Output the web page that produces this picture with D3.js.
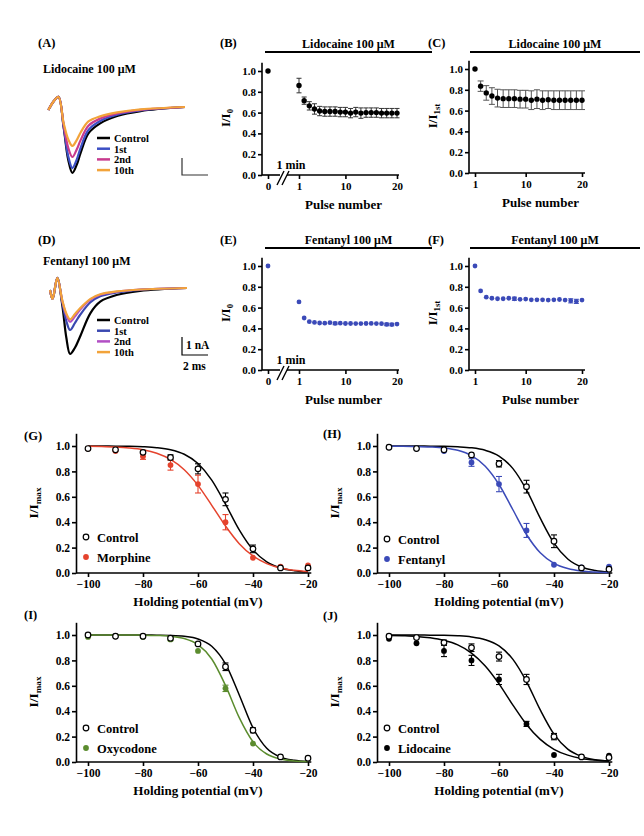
<!DOCTYPE html>
<html><head><meta charset="utf-8">
<script src="https://cdn.jsdelivr.net/npm/d3@7"></script>
<style>
body{margin:0;background:#fff}
svg text{font-family:"Liberation Serif","Times New Roman",serif;font-weight:bold;fill:#000}
</style></head><body>
<svg id="fig" width="644" height="836"></svg>
<script>
// ---------------- DATA ----------------
// Panels A / D : example current traces (time in ms, current in nA)
const traceNames = ["Control", "1st", "2nd", "10th"];
const timeA = [0.03, 0.45, 0.8, 1.2, 1.55, 1.87, 2.2, 2.5, 3.1, 4.0, 5.3, 7.1, 10.5];
const lidoTraceControl = [-0.18, 0.35, 0.6, -1.2, -3.1, -3.88, -3.4, -2.7, -1.55, -0.96, -0.53, -0.24, 0];
const lidoTrace1st     = [-0.18, 0.35, 0.6, -1.15, -2.9, -3.59, -3.1, -2.4, -1.35, -0.82, -0.45, -0.2, 0];
const lidoTrace2nd     = [-0.18, 0.35, 0.6, -1.05, -2.4, -2.94, -2.5, -1.95, -1.1, -0.68, -0.38, -0.17, 0];
const lidoTrace10th    = [-0.18, 0.35, 0.6, -0.95, -1.9, -2.29, -1.95, -1.5, -0.85, -0.55, -0.32, -0.14, 0];
const timeD = [0, 0.2, 0.56, 0.95, 1.25, 1.54, 1.9, 2.3, 3.1, 3.85, 5.1, 6.9, 10.5];
const fentTraceControl = [-0.13, -0.73, 0.67, -1.2, -3.3, -4.4, -4.0, -3.25, -1.67, -0.91, -0.47, -0.2, 0];
const fentTrace1st     = [-0.13, -0.73, 0.67, -1.0, -2.2, -2.8, -2.35, -1.8, -0.95, -0.55, -0.3, -0.12, 0];
const fentTrace2nd     = [-0.13, -0.73, 0.67, -0.9, -1.8, -2.25, -1.9, -1.45, -0.78, -0.45, -0.25, -0.1, 0];
const fentTrace10th    = [-0.13, -0.73, 0.67, -0.85, -1.7, -2.09, -1.75, -1.35, -0.72, -0.42, -0.23, -0.1, 0];

// Panels B / E : I/I0 vs pulse number (0 = before drug)
const pulses0 = [0,1,2,3,4,5,6,7,8,9,10,11,12,13,14,15,16,17,18,19,20];
const lidoI0    = [1.0,0.86,0.715,0.665,0.635,0.615,0.61,0.61,0.61,0.605,0.605,0.595,0.605,0.595,0.60,0.60,0.60,0.595,0.595,0.595,0.595];
const lidoI0Err = [0,0.07,0.035,0.04,0.05,0.045,0.045,0.045,0.045,0.045,0.045,0.045,0.045,0.05,0.045,0.045,0.045,0.045,0.045,0.045,0.045];
const fentI0    = [1.0,0.655,0.50,0.465,0.457,0.452,0.45,0.455,0.448,0.45,0.447,0.447,0.446,0.446,0.447,0.448,0.446,0.445,0.438,0.437,0.442];
const fentI0Err = [0,0,0,0,0,0,0,0,0.012,0,0,0,0,0,0,0,0,0,0.012,0.012,0];

// Panels C / F : I/I1st vs pulse number
const pulses1 = [1,2,3,4,5,6,7,8,9,10,11,12,13,14,15,16,17,18,19,20];
const lidoI1st    = [1.0,0.835,0.77,0.74,0.72,0.715,0.715,0.715,0.71,0.71,0.70,0.71,0.70,0.705,0.70,0.70,0.70,0.70,0.70,0.70];
const lidoI1stErr = [0,0.05,0.07,0.08,0.085,0.085,0.085,0.085,0.085,0.085,0.09,0.09,0.09,0.085,0.09,0.09,0.09,0.09,0.09,0.09];
const fentI1st    = [1.0,0.76,0.70,0.69,0.685,0.685,0.69,0.685,0.68,0.682,0.675,0.675,0.675,0.672,0.675,0.678,0.672,0.665,0.66,0.672];
const fentI1stErr = [0,0,0,0,0,0,0,0.015,0,0,0,0,0,0,0,0,0,0.02,0.02,0];

// Panels G-J : steady-state inactivation
const holdV = [-100,-90,-80,-70,-60,-50,-40,-30,-20];
const gControl = [0.98,0.97,0.95,0.91,0.82,0.58,0.19,0.04,0.04];
const gControlErr = [0,0,0.01,0.02,0.04,0.05,0.03,0,0];
const morphine = [0.98,0.96,0.92,0.85,0.70,0.40,0.12,0.05,0.06];
const morphineErr = [0,0,0.025,0.04,0.07,0.06,0,0,0];
const hControl = [0.99,0.98,0.97,0.93,0.86,0.68,0.25,0.04,0.03];
const hControlErr = [0,0,0,0,0.025,0.05,0.05,0,0];
const fentanyl = [0.99,0.98,0.96,0.87,0.70,0.335,0.065,0.045,0.05];
const fentanylErr = [0,0,0,0.03,0.06,0.055,0,0,0];
const iControl = [1.0,0.99,0.99,0.975,0.93,0.75,0.25,0.04,0.03];
const iControlErr = [0,0,0,0,0,0.03,0.02,0,0];
const oxycodone = [0.985,0.99,0.985,0.965,0.875,0.58,0.145,0.04,0.03];
const oxycodoneErr = [0,0,0,0.01,0,0.025,0,0,0];
const jControl = [0.99,0.98,0.94,0.90,0.83,0.65,0.20,0.04,0.035];
const jControlErr = [0,0,0.02,0.03,0.035,0.04,0.025,0,0];
const lidocaine = [0.97,0.935,0.875,0.80,0.65,0.30,0.055,0.04,0.05];
const lidocaineErr = [0,0,0.045,0.04,0.04,0.02,0,0,0];

// fitted Boltzmann curves, read every 5 mV
const fitV = [-100,-95,-90,-85,-80,-75,-70,-65,-60,-55,-50,-45,-40,-35,-30,-25,-20];
const gControlFit = [1.000,0.9995,0.999,0.9975,0.994,0.987,0.971,0.935,0.862,0.731,0.542,0.339,0.182,0.088,0.040,0.018,0.008];
const morphineFit = [0.998,0.996,0.992,0.984,0.970,0.943,0.894,0.813,0.690,0.533,0.370,0.231,0.134,0.074,0.039,0.021,0.011];
const hControlFit = [1.000,1.000,1.000,0.999,0.998,0.994,0.986,0.966,0.921,0.824,0.654,0.432,0.235,0.110,0.047,0.020,0.008];
const fentanylFit = [0.999,0.999,0.997,0.993,0.985,0.966,0.924,0.841,0.697,0.500,0.303,0.159,0.076,0.035,0.015,0.007,0.003];
const iControlFit = [1.000,1.000,1.000,1.000,1.000,0.999,0.997,0.990,0.969,0.911,0.772,0.528,0.269,0.108,0.038,0.013,0.004];
const oxycodoneFit = [1.000,1.000,1.000,1.000,0.999,0.996,0.990,0.972,0.924,0.811,0.603,0.349,0.159,0.063,0.023,0.008,0.003];
const jControlFit = [1.000,1.000,1.000,0.999,0.998,0.994,0.985,0.963,0.914,0.810,0.633,0.410,0.219,0.101,0.044,0.018,0.007];
const lidocaineFit = [0.997,0.994,0.989,0.978,0.958,0.922,0.858,0.756,0.615,0.450,0.296,0.178,0.100,0.054,0.028,0.015,0.008];

const yTicks = [0, 0.2, 0.4, 0.6, 0.8, 1.0];
const xTicksHold = [-100, -80, -60, -40, -20];

// ---------------- STYLE ----------------
const C_BLACK = "#000", C_BLUE = "#3b4ab8", C_RED = "#e5432d", C_GREEN = "#5b8c2e";
const traceColorsA = ["#000000", "#3c4fc4", "#c83b8e", "#f2a33a"];
const traceColorsD = ["#000000", "#3a48b0", "#b24fc4", "#f2a33a"];

const svg = d3.select("#fig");
const fmt = d3.format(".1f");

function text(x, y, s, size, anchor) {
  return svg.append("text").attr("x", x).attr("y", y).attr("text-anchor", anchor || "start")
    .style("font-size", size + "px").text(s);
}
function styleAxis(g, size) {
  g.attr("font-family", null).attr("font-size", null);
  g.selectAll("path,line").attr("stroke", "#000").attr("stroke-width", 1.6);
  g.selectAll("text").style("font-size", size + "px");
}
function yTitle(x, y, main, sub, size) {
  const t = svg.append("text").attr("transform", `translate(${x},${y}) rotate(-90)`)
    .attr("text-anchor", "middle").style("font-size", size + "px");
  t.append("tspan").text(main);
  t.append("tspan").attr("dy", 3).style("font-size", (size * 0.68) + "px").text(sub);
}
function errBars(xs, ys, es, x, y, color, capW, sw) {
  const g = svg.append("g").attr("stroke", color).attr("stroke-width", sw || 1).attr("fill", "none");
  xs.forEach((v, i) => {
    const e = es[i]; if (!e) return;
    const cx = x(v), y1 = y(ys[i] + e), y2 = y(ys[i] - e);
    g.append("line").attr("x1", cx).attr("x2", cx).attr("y1", y1).attr("y2", y2);
    g.append("line").attr("x1", cx - capW / 2).attr("x2", cx + capW / 2).attr("y1", y1).attr("y2", y1);
    g.append("line").attr("x1", cx - capW / 2).attr("x2", cx + capW / 2).attr("y1", y2).attr("y2", y2);
  });
}
function dots(xs, ys, x, y, r, fill, stroke) {
  svg.append("g").selectAll("circle").data(xs).join("circle")
    .attr("cx", d => x(d)).attr("cy", (d, i) => y(ys[i])).attr("r", r)
    .attr("fill", fill).attr("stroke", stroke || "none").attr("stroke-width", stroke ? 1.2 : 0);
}

// ---------------- TRACES (A, D) ----------------
function tracePanel(opt) {
  const x = d3.scaleLinear().domain([0, 10.5]).range(opt.xr);
  const y = d3.scaleLinear().domain([0, 1]).range([opt.base, opt.base - opt.pxPerNa]);
  const line = d3.line().x((d, i) => x(opt.time[i])).y(d => y(d)).curve(d3.curveCatmullRom.alpha(0.5));
  opt.series.forEach((s, k) => {
    svg.append("path").attr("d", line(s)).attr("fill", "none")
      .attr("stroke", opt.colors[k]).attr("stroke-width", 2.2).attr("stroke-linejoin", "round");
  });
  traceNames.forEach((n, k) => {
    const yy = opt.legY + k * opt.legDy;
    svg.append("line").attr("x1", 97).attr("x2", 110).attr("y1", yy).attr("y2", yy)
      .attr("stroke", opt.colors[k]).attr("stroke-width", 2.5);
    text(114, yy + 3.8, n, 10.5);
  });
  text(opt.label[0], opt.label[1], opt.label[2], 12.5);
  text(43, opt.titleY, opt.title, 12);
}
tracePanel({time: timeA, series: [lidoTraceControl, lidoTrace1st, lidoTrace2nd, lidoTrace10th],
  colors: traceColorsA, xr: [48, 185], base: 107, pxPerNa: 17, legY: 138, legDy: 10.7,
  label: [38, 47, "(A)"], title: "Lidocaine 100 \u03bcM", titleY: 73});
tracePanel({time: timeD, series: [fentTraceControl, fentTrace1st, fentTrace2nd, fentTrace10th],
  colors: traceColorsD, xr: [50, 187], base: 288, pxPerNa: 15, legY: 320, legDy: 10.7,
  label: [38, 244, "(D)"], title: "Fentanyl 100 \u03bcM", titleY: 265});
// scale bars
svg.append("path").attr("d", "M182,158V175H208").attr("fill", "none").attr("stroke", "#333").attr("stroke-width", 1.2);
svg.append("path").attr("d", "M182,337V355H208").attr("fill", "none").attr("stroke", "#000").attr("stroke-width", 1.2);
text(186, 349, "1 nA", 11.5);
text(183, 370, "2 ms", 11.5);

// ---------------- PULSE PANELS (B, C, E, F) ----------------
function pulsePanel(opt) {
  const y = d3.scaleLinear().domain([0, 1]).range([opt.y0, opt.y0 - 104]);
  const x = d3.scaleLinear().domain(opt.xd).range(opt.xr);
  const gy = svg.append("g").attr("transform", `translate(${opt.ax},0)`)
    .call(d3.axisLeft(y).tickValues(yTicks).tickFormat(fmt).tickSize(4).tickSizeOuter(0).tickPadding(2));
  gy.select(".domain").remove();
  styleAxis(gy, 11);
  svg.append("line").attr("x1", opt.ax).attr("x2", opt.ax).attr("y1", y(0)).attr("y2", y(1.08))
    .attr("stroke", "#000").attr("stroke-width", 1.6);
  const gx = svg.append("g").attr("transform", `translate(0,${opt.y0})`)
    .call(d3.axisBottom(x).tickValues(opt.xticks).tickFormat(d3.format("d")).tickSize(4).tickSizeOuter(0).tickPadding(3));
  gx.select(".domain").remove();
  styleAxis(gx, 11);
  if (opt.brk) {
    svg.append("line").attr("x1", opt.ax).attr("x2", opt.ax + 18).attr("y1", opt.y0).attr("y2", opt.y0)
      .attr("stroke", "#000").attr("stroke-width", 1.6);
    svg.append("line").attr("x1", opt.ax + 25).attr("x2", opt.xend).attr("y1", opt.y0).attr("y2", opt.y0)
      .attr("stroke", "#000").attr("stroke-width", 1.6);
    [0, 5].forEach(d => svg.append("line").attr("x1", opt.ax + 15 + d).attr("y1", opt.y0 + 10)
      .attr("x2", opt.ax + 22 + d).attr("y2", opt.y0 - 4).attr("stroke", "#000").attr("stroke-width", 1.4));
    text(opt.ax + 29, opt.y0 - 6, "1 min", 12, "middle");
  } else {
    svg.append("line").attr("x1", opt.ax).attr("x2", opt.xend).attr("y1", opt.y0).attr("y2", opt.y0)
      .attr("stroke", "#000").attr("stroke-width", 1.6);
  }
  errBars(opt.px, opt.vals, opt.errs, x, y, opt.errColor, opt.capW, 1);
  dots(opt.px, opt.vals, x, y, opt.r, opt.color);
  yTitle(opt.ax - 32, opt.y0 - 57, "I/I", opt.sub, 13);
  text((opt.xr[0] + opt.xr[opt.xr.length - 1]) / 2 + opt.titleDx, opt.y0 + 34, "Pulse number", 13, "middle");
  text(opt.label[0], opt.label[1], opt.label[2], 12.5);
  // drug application bar
  svg.append("line").attr("x1", opt.bar[0]).attr("x2", opt.bar[1]).attr("y1", opt.bar[2]).attr("y2", opt.bar[2])
    .attr("stroke", "#000").attr("stroke-width", 2);
  text((opt.bar[0] + opt.bar[1]) / 2, opt.bar[2] - 4, opt.drug, 12, "middle");
}
pulsePanel({ax: 262, y0: 175, xd: [0, 1, 20], xr: [268, 299, 397], xticks: [0, 1, 10, 20], brk: true, xend: 399,
  px: pulses0, vals: lidoI0, errs: lidoI0Err, errColor: "#333", capW: 5, r: 2.7, color: C_BLACK,
  sub: "0", titleDx: 11, label: [220, 47, "(B)"], bar: [265, 432, 52], drug: "Lidocaine 100 \u03bcM"});
pulsePanel({ax: 469, y0: 173, xd: [1, 20], xr: [475, 582], xticks: [1, 10, 20], brk: false, xend: 585,
  px: pulses1, vals: lidoI1st, errs: lidoI1stErr, errColor: "#555", capW: 6, r: 2.7, color: C_BLACK,
  sub: "1st", titleDx: 12, label: [428, 47, "(C)"], bar: [470, 640, 52], drug: "Lidocaine 100 \u03bcM"});
pulsePanel({ax: 262, y0: 370, xd: [0, 1, 20], xr: [268, 299, 397], xticks: [0, 1, 10, 20], brk: true, xend: 399,
  px: pulses0, vals: fentI0, errs: fentI0Err, errColor: C_BLUE, capW: 5, r: 2.4, color: C_BLUE,
  sub: "0", titleDx: 11, label: [220, 244, "(E)"], bar: [265, 432, 248], drug: "Fentanyl 100 \u03bcM"});
pulsePanel({ax: 469, y0: 370, xd: [1, 20], xr: [475, 582], xticks: [1, 10, 20], brk: false, xend: 585,
  px: pulses1, vals: fentI1st, errs: fentI1stErr, errColor: C_BLUE, capW: 5, r: 2.4, color: C_BLUE,
  sub: "1st", titleDx: 12, label: [428, 244, "(F)"], bar: [470, 640, 248], drug: "Fentanyl 100 \u03bcM"});

// ---------------- INACTIVATION PANELS (G-J) ----------------
function inactPanel(opt) {
  const y = d3.scaleLinear().domain([0, 1.1]).range([opt.y0, opt.y0 - 127 * 1.1]);
  const x = d3.scaleLinear().domain([-100, -20]).range([opt.ax + 12, opt.ax + 232]);
  const gy = svg.append("g").attr("transform", `translate(${opt.ax},0)`)
    .call(d3.axisLeft(y).tickValues(yTicks).tickFormat(fmt).tickSize(4).tickSizeOuter(0).tickPadding(2));
  styleAxis(gy, 11.5);
  const gx = svg.append("g").attr("transform", `translate(0,${opt.y0})`)
    .call(d3.axisBottom(x).tickValues(xTicksHold).tickFormat(d3.format("d")).tickSize(4).tickSizeOuter(0).tickPadding(3));
  gx.select(".domain").remove();
  styleAxis(gx, 11.5);
  svg.append("line").attr("x1", opt.ax).attr("x2", x(-18.8)).attr("y1", opt.y0).attr("y2", opt.y0)
    .attr("stroke", "#000").attr("stroke-width", 1.6);
  const line = d3.line().x((d, i) => x(fitV[i])).y(d => y(d)).curve(d3.curveMonotoneX);
  svg.append("path").attr("d", line(opt.ctrlFit)).attr("fill", "none").attr("stroke", "#000").attr("stroke-width", 1.5);
  svg.append("path").attr("d", line(opt.drugFit)).attr("fill", "none").attr("stroke", opt.color).attr("stroke-width", 1.5);
  errBars(holdV, opt.ctrl, opt.ctrlErr, x, y, "#000", 6, 1.1);
  errBars(holdV, opt.drug, opt.drugErr, x, y, opt.color, 6, 1.1);
  dots(holdV, opt.drug, x, y, 2.9, opt.color);
  dots(holdV, opt.ctrl, x, y, 2.8, "#fff", "#000");
  yTitle(opt.ax - 38, opt.y0 - 70, "I/I", "max", 13.5);
  text(x(-60), opt.y0 + 33, "Holding potential (mV)", 13, "middle");
  text(opt.label[0], opt.label[1], opt.label[2], 12.5);
  // legend
  const lx = opt.ax + 10, ly = opt.legY;
  svg.append("circle").attr("cx", lx).attr("cy", ly).attr("r", 2.8).attr("fill", "#fff").attr("stroke", "#000").attr("stroke-width", 1.2);
  text(lx + 11, ly + 4.5, "Control", 12.5);
  svg.append("circle").attr("cx", lx).attr("cy", ly + 20).attr("r", 2.9).attr("fill", opt.color);
  text(lx + 11, ly + 24.5, opt.drugName, 12.5);
}
inactPanel({ax: 76, y0: 573, ctrl: gControl, ctrlErr: gControlErr, drug: morphine, drugErr: morphineErr,
  ctrlFit: gControlFit, drugFit: morphineFit, color: C_RED, drugName: "Morphine", legY: 537, label: [24, 440, "(G)"]});
inactPanel({ax: 377, y0: 573, ctrl: hControl, ctrlErr: hControlErr, drug: fentanyl, drugErr: fentanylErr,
  ctrlFit: hControlFit, drugFit: fentanylFit, color: C_BLUE, drugName: "Fentanyl", legY: 539, label: [323, 438, "(H)"]});
inactPanel({ax: 76, y0: 762, ctrl: iControl, ctrlErr: iControlErr, drug: oxycodone, drugErr: oxycodoneErr,
  ctrlFit: iControlFit, drugFit: oxycodoneFit, color: C_GREEN, drugName: "Oxycodone", legY: 728, label: [24, 619, "(I)"]});
inactPanel({ax: 377, y0: 762, ctrl: jControl, ctrlErr: jControlErr, drug: lidocaine, drugErr: lidocaineErr,
  ctrlFit: jControlFit, drugFit: lidocaineFit, color: C_BLACK, drugName: "Lidocaine", legY: 728, label: [323, 620, "(J)"]});
</script>
</body></html>
